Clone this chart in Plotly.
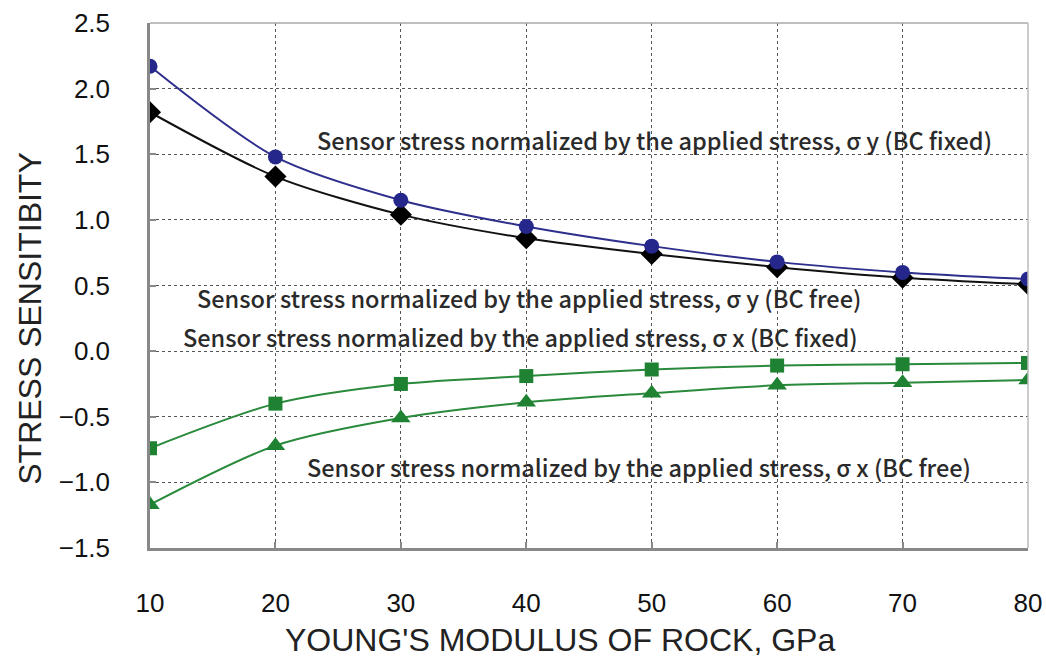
import plotly.graph_objects as go

modulus = [10, 20, 30, 40, 50, 60, 70, 80]
sy_fixed = [2.17, 1.48, 1.15, 0.95, 0.80, 0.68, 0.60, 0.55]
sy_free = [1.82, 1.33, 1.04, 0.86, 0.74, 0.64, 0.56, 0.51]
sx_fixed = [-0.74, -0.40, -0.25, -0.19, -0.14, -0.11, -0.10, -0.09]
sx_free = [-1.17, -0.72, -0.51, -0.39, -0.32, -0.26, -0.24, -0.22]

y_ticks = [-1.5, -1.0, -0.5, 0.0, 0.5, 1.0, 1.5, 2.0, 2.5]
x_ticks = modulus

labels = [
    "Sensor stress normalized by the applied stress, σ y (BC fixed)",
    "Sensor stress normalized by the applied stress, σ y (BC free)",
    "Sensor stress normalized by the applied stress, σ x (BC fixed)",
    "Sensor stress normalized by the applied stress, σ x (BC free)",
]
label_x = [50.2, 40.2, 39.5, 49.0]
label_y = [1.61, 0.405, 0.108, -0.88]

x_title = "YOUNG'S MODULUS OF ROCK, GPa"
y_title = "STRESS SENSITIBITY"

fig = go.Figure()
fig.add_trace(go.Scatter(x=modulus, y=sy_free, mode="lines+markers", line=dict(color="#111111", width=2, shape="spline", smoothing=0.8),
                         marker=dict(symbol="diamond", size=17, color="#000000")))
fig.add_trace(go.Scatter(x=modulus, y=sy_fixed, mode="lines+markers", line=dict(color="#2E2E8C", width=2, shape="spline", smoothing=0.8),
                         marker=dict(symbol="circle", size=15, color="#25278A")))
fig.add_trace(go.Scatter(x=modulus, y=sx_fixed, mode="lines+markers", line=dict(color="#2A8A3C", width=2, shape="spline", smoothing=0.8),
                         marker=dict(symbol="square", size=14, color="#1E8232")))
fig.add_trace(go.Scatter(x=modulus, y=sx_free, mode="lines+markers", line=dict(color="#2A8A3C", width=2, shape="spline", smoothing=0.8),
                         marker=dict(symbol="triangle-up", size=17, color="#1E8232")))

for t, xx, yy in zip(labels, label_x, label_y):
    fig.add_annotation(x=xx, y=yy, text=t, showarrow=False, xanchor="center", yanchor="middle",
                       font=dict(family="Noto Sans CJK JP", size=23.5, color="#2a2a2a", weight=500))

# axis titles
fig.add_annotation(xref="paper", yref="paper", x=0.467, y=-0.175, text=x_title, showarrow=False,
                   xanchor="center", yanchor="middle", font=dict(size=32, color="#222222"))
fig.add_annotation(xref="paper", yref="paper", x=-0.137, y=0.438, text=y_title, showarrow=False, textangle=-90,
                   xanchor="center", yanchor="middle", font=dict(size=32, color="#222222"))

# top and right frame lines
fig.add_shape(type="line", xref="paper", yref="paper", x0=0, x1=1, y0=1, y1=1, line=dict(color="#AAAAAA", width=1.5))
fig.add_shape(type="line", xref="paper", yref="paper", x0=1, x1=1, y0=0, y1=1, line=dict(color="#BBBBBB", width=1.5))

fig.update_layout(
    width=1046, height=666,
    margin=dict(l=150, r=18, t=23, b=118),
    plot_bgcolor="white", paper_bgcolor="white",
    showlegend=False,
    font=dict(family="Liberation Sans, Arial, sans-serif", color="#222222"),
)
fig.update_xaxes(
    range=[10, 80], tickvals=x_ticks, ticktext=[str(v) for v in x_ticks],
    showgrid=True, gridcolor="#555555", griddash="dot", gridwidth=1,
    showline=True, linecolor="#888888", linewidth=2.5,
    ticks="inside", ticklen=6, tickcolor="#888888", tickwidth=2,
    tickfont=dict(size=26, color="#111111"), ticklabelstandoff=30,
    automargin=False, zeroline=False,
)
fig.update_yaxes(
    range=[-1.5, 2.5], tickvals=y_ticks, ticktext=[f"{v:.1f}".replace("-", "−") for v in y_ticks],
    showgrid=True, gridcolor="#555555", griddash="dot", gridwidth=1,
    showline=True, linecolor="#888888", linewidth=2.5,
    ticks="inside", ticklen=6, tickcolor="#888888", tickwidth=2,
    tickfont=dict(size=26, color="#111111"), ticklabelstandoff=32,
    automargin=False, zeroline=False,
)

fig.write_html(
    "out.html",
    config={"displayModeBar": False},
    post_script="document.body.style.margin='0px';document.body.style.overflow='hidden';",
)
